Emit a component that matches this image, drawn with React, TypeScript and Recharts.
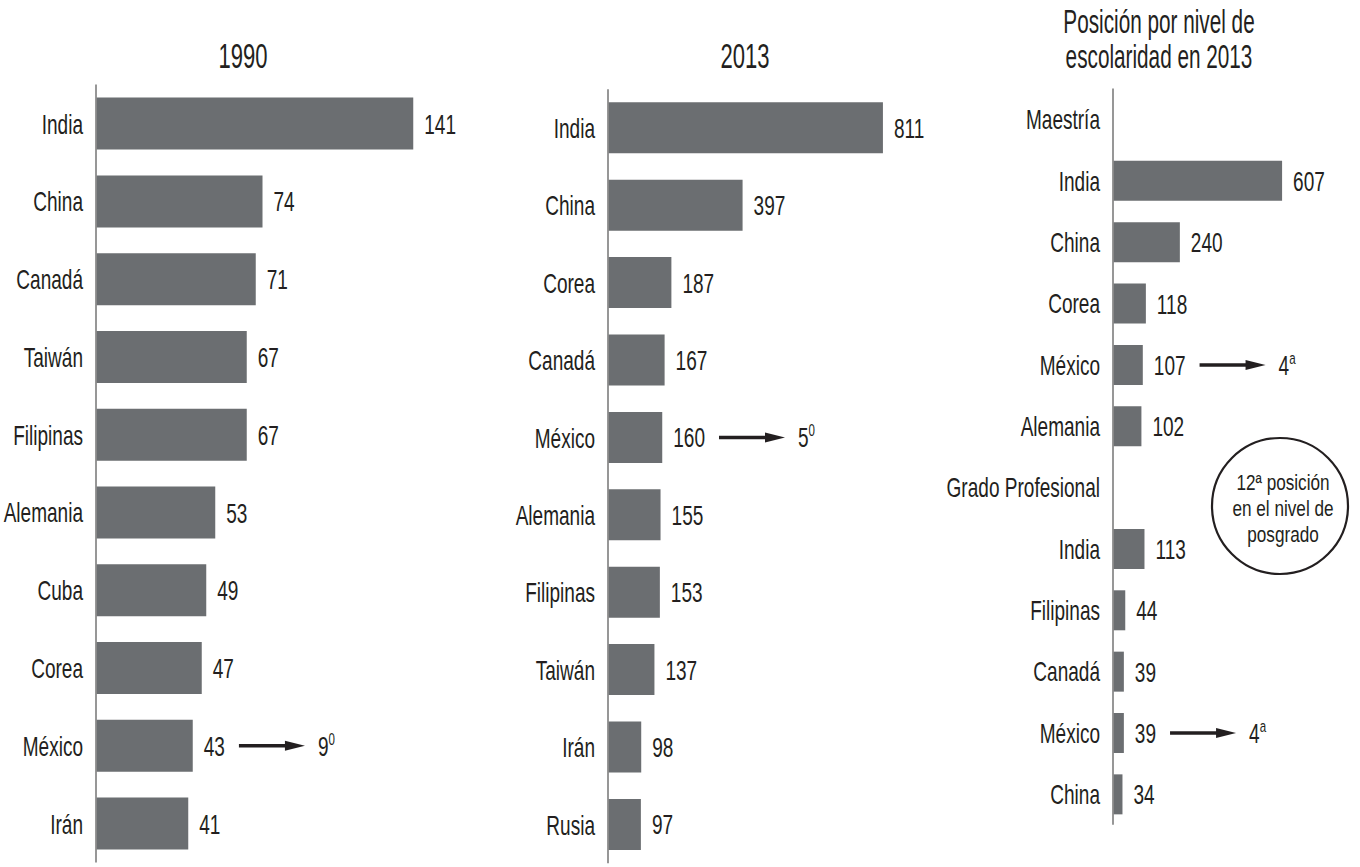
import React from "react";
import { Bar, BarChart, LabelList, XAxis, YAxis } from "recharts";

const FONT = "'Liberation Sans', Arial, sans-serif";
const INK = "#231f20";
const BAR = "#6b6e71";
const AXIS = "#8c8c8c";
const SX = 0.68;
const FS = 28;

// 1990
const countries1990 = ["India", "China", "Canadá", "Taiwán", "Filipinas", "Alemania", "Cuba", "Corea", "México", "Irán"];
const values1990 = [141, 74, 71, 67, 67, 53, 49, 47, 43, 41];
const notes1990 = [null, null, null, null, null, null, null, null, ["9", "0"], null];

// 2013
const countries2013 = ["India", "China", "Corea", "Canadá", "México", "Alemania", "Filipinas", "Taiwán", "Irán", "Rusia"];
const values2013 = [811, 397, 187, 167, 160, 155, 153, 137, 98, 97];
const notes2013 = [null, null, null, null, ["5", "0"], null, null, null, null, null];

// posición por nivel de escolaridad 2013
const levelRows = ["Maestría", "India", "China", "Corea", "México", "Alemania", "Grado Profesional", "India", "Filipinas", "Canadá", "México", "China"];
const levelValues = [null, 607, 240, 118, 107, 102, null, 113, 44, 39, 39, 34];
const levelNotes = [null, null, null, null, ["4", "a"], null, null, null, null, null, ["4", "a"], null];

const titles = { p1: "1990", p2: "2013", p3: ["Posición por nivel de", "escolaridad en 2013"] };
const circleLines = ["12ª posición", "en el nivel de", "posgrado"];

type Row = { name: string; value: number | null; note: string[] | null };

const toRows = (names: string[], vals: (number | null)[], notes: (string[] | null)[]): Row[] =>
  names.map((name, i) => ({ name, value: vals[i], note: notes[i] }));

const CategoryTick = (props: any) => {
  const { x, y, payload } = props;
  return (
    <text
      transform={`translate(${x},${y}) scale(${SX},1)`}
      textAnchor="end"
      dy="0.36em"
      fontFamily={FONT}
      fontSize={FS}
      fill={INK}
    >
      {payload.value}
    </text>
  );
};

// labels are only produced for bars that have a value, so index into those rows
const makeValueLabel = (rows: Row[]) => {
  const shown = rows.filter((r) => r.value != null);
  return (props: any) => {
    const { x, y, width, height, value, index } = props;
    if (value == null) return null;
    const lx = x + width + 11;
    const cy = y + height / 2;
    const note = shown[index]?.note;
    let arrow = null;
    if (note) {
      const ax = lx + String(value).length * 0.556 * FS * SX + 14;
      const len = 66;
      arrow = (
        <g>
          <line x1={ax} y1={cy} x2={ax + len - 16} y2={cy} stroke={INK} strokeWidth={3.5} />
          <polygon points={`${ax + len},${cy} ${ax + len - 20},${cy - 5} ${ax + len - 20},${cy + 5}`} fill={INK} />
          <text
            transform={`translate(${ax + len + 13},${cy}) scale(${SX},1)`}
            dy="0.36em"
            fontFamily={FONT}
            fontSize={FS}
            fill={INK}
          >
            {note[0]}
            <tspan fontSize={17} dy="-11">{note[1]}</tspan>
          </text>
        </g>
      );
    }
    return (
      <g>
        <text
          transform={`translate(${lx},${cy}) scale(${SX},1)`}
          dy="0.36em"
          fontFamily={FONT}
          fontSize={FS}
          fill={INK}
        >
          {value}
        </text>
        {arrow}
      </g>
    );
  };
};

type PanelProps = {
  rows: Row[];
  left: number;
  width: number;
  axisWidth: number;
  max: number;
  margin: { top: number; right: number; bottom: number; left: number };
  barSize: number;
};

const Panel = ({ rows, left, width, axisWidth, max, margin, barSize }: PanelProps) => (
  <div style={{ position: "absolute", left, top: 0 }}>
    <BarChart width={width} height={867} data={rows} layout="vertical" margin={margin}>
      <XAxis type="number" domain={[0, max]} hide />
      <YAxis
        type="category"
        dataKey="name"
        width={axisWidth}
        allowDuplicatedCategory
        axisLine={{ stroke: AXIS, strokeWidth: 1.8 }}
        tickLine={false}
        tickSize={0}
        tickMargin={13}
        tick={<CategoryTick />}
        interval={0}
      />
      <Bar dataKey="value" fill={BAR} barSize={barSize} isAnimationActive={false}>
        <LabelList dataKey="value" content={makeValueLabel(rows)} />
      </Bar>
    </BarChart>
  </div>
);

export default function App() {
  return (
    <div style={{ position: "absolute", left: 0, top: 0, width: 1360, height: 867, background: "#fff", overflow: "hidden" }}>
      <Panel
        rows={toRows(countries1990, values1990, notes1990)}
        left={0}
        width={460}
        axisWidth={96}
        max={160}
        margin={{ top: 84.6, right: 4, bottom: 4.6, left: 0 }}
        barSize={52}
      />
      <Panel
        rows={toRows(countries2013, values2013, notes2013)}
        left={500}
        width={460}
        axisWidth={108}
        max={1000}
        margin={{ top: 89.3, right: 13, bottom: 3.7, left: 0 }}
        barSize={51}
      />
      <Panel
        rows={toRows(levelRows, levelValues, levelNotes)}
        left={925}
        width={435}
        axisWidth={188}
        max={700}
        margin={{ top: 88.5, right: 52, bottom: 42.3, left: 0 }}
        barSize={40}
      />
      <svg width={1360} height={867} style={{ position: "absolute", left: 0, top: 0, pointerEvents: "none" }}>
        <g fontFamily={FONT} fill={INK}>
          <text transform={`translate(243,68) scale(0.63,1)`} textAnchor="middle" fontSize={35}>{titles.p1}</text>
          <text transform={`translate(745,68) scale(0.63,1)`} textAnchor="middle" fontSize={35}>{titles.p2}</text>
          <text transform={`translate(1159,33) scale(0.61,1)`} textAnchor="middle" fontSize={34}>{titles.p3[0]}</text>
          <text transform={`translate(1159,68) scale(0.61,1)`} textAnchor="middle" fontSize={34}>{titles.p3[1]}</text>
        </g>
        <circle cx={1280} cy={506} r={68} fill="none" stroke={INK} strokeWidth={2.2} />
        <g fontFamily={FONT} fill={INK} fontSize={22}>
          {circleLines.map((t, i) => (
            <text key={i} transform={`translate(1283,${490 + i * 26}) scale(0.78,1)`} textAnchor="middle">{t}</text>
          ))}
        </g>
      </svg>
    </div>
  );
}
